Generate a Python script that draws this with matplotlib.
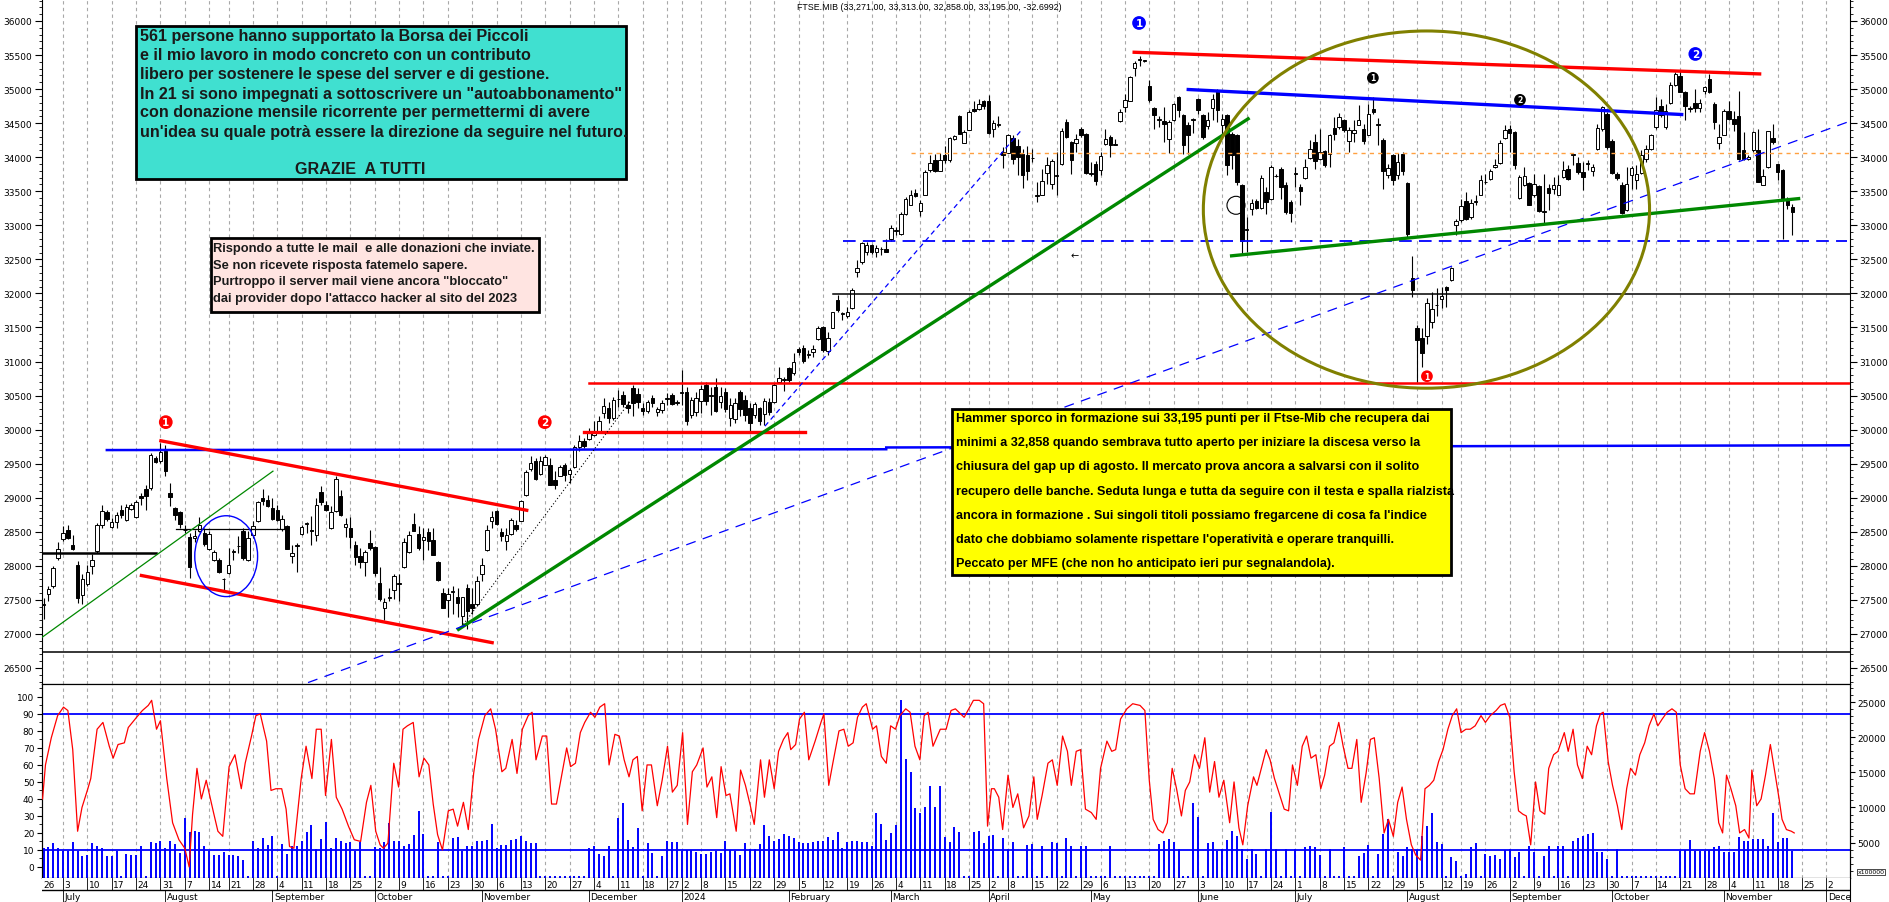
import numpy as np
import pandas as pd
import matplotlib
matplotlib.use('Agg')
import matplotlib.pyplot as plt
from matplotlib.patches import Rectangle, Ellipse

W, H = 1890, 903
SANS = ['Liberation Sans', 'DejaVu Sans']

# ---------------- data ----------------
holidays = ['2023-08-15', '2023-12-25', '2023-12-26', '2024-01-01',
            '2024-03-29', '2024-04-01', '2024-05-01', '2024-08-15']

opens = [27420, 27580, 27702, 28117, 28400, 28532, 28312, 28009, 27570, 27736,
         27995, 28214, 28605, 28786, 28571, 28644, 28815, 28669, 28840, 28718,
         29020, 29127, 29142, 29577, 29533, 29680, 29064, 28850, 28791, 28530,
         28425, 28410, 28507, 28483, 28254, 28093, 28083, 27800, 27897, 28205,
         28286, 28507, 28083, 28459, 28654, 28996, 28967, 28850, 28815, 28542,
         28586, 28141, 28288, 28468, 28610, 28532, 28449, 29084, 28888, 28557,
         28800, 29030, 28567, 28557, 28313, 28142, 28054, 28337, 28274, 27751,
         27375, 27535, 27638, 27736, 27980, 28205, 28620, 28469, 28386, 28493,
         28381, 28059, 27604, 27497, 27615, 27541, 27262, 27677, 27443, 27443,
         27873, 28239, 28654, 28811, 28498, 28371, 28474, 28606, 28664, 29035,
         29421, 29533, 29348, 29485, 29475, 29265, 29314, 29475, 29348, 29445,
         29738, 29836, 29866, 29924, 29973, 30242, 30315, 30168, 30445, 30510,
         30364, 30618, 30520, 30315, 30276, 30471, 30252, 30291, 30447, 30510,
         30398, 30545, 30559, 30208, 30252, 30422, 30657, 30491, 30632, 30413,
         30550, 30169, 30159, 30550, 30437, 30315, 30208, 30315, 30227, 30413,
         30403, 30706, 30725, 30911, 30828, 31184, 31194, 31101, 31145, 31331,
         31507, 31155, 31497, 31902, 31702, 31673, 31780, 32317, 32454, 32601,
         32718, 32611, 32645, 32659, 32796, 32923, 32879, 33172, 33304, 33475,
         33206, 33441, 33807, 33963, 33797, 34027, 33953, 34271, 34603, 34212,
         34393, 34710, 34710, 34832, 34832, 34408, 34471, 34076, 34066, 34281,
         34163, 34051, 34027, 33982, 33426, 33450, 33773, 33612, 33729, 33895,
         34515, 34222, 34212, 34408, 34344, 33753, 33904, 33807, 34198, 34295,
         34178, 34525, 34735, 34823, 35306, 35423, 35413, 35042, 34725, 34549,
         34535, 34261, 34539, 34891, 34622, 34466, 34549, 34857, 34622, 34456,
         34720, 34979, 34466, 34622, 34344, 34330, 33597, 32933, 33245, 33353,
         33255, 33489, 33392, 33719, 33831, 33587, 33343, 33753, 33563, 33695,
         33988, 34222, 33978, 34085, 34051, 34427, 34442, 34540, 34232, 34359,
         34476, 34408, 34330, 34710, 34471, 34256, 33734, 34036, 33734, 34051,
         33626, 32229, 31487, 31341, 31380, 31585, 31824, 31917, 32097, 32195,
         33001, 33074, 33357, 33123, 33338, 33450, 33631, 33675, 33856, 33919,
         34281, 34417, 34368, 33401, 33587, 33621, 33440, 33572, 33201, 33548,
         33538, 33450, 33709, 33821, 34031, 33919, 33782, 33899, 33792, 34114,
         34417, 34637, 34231, 33757, 33596, 33220, 33733, 33660, 33772, 33968,
         34114, 34441, 34749, 34441, 34798, 35061, 35198, 34964, 34705, 34798,
         34720, 34979, 35149, 34783, 34207, 34329, 34685, 34563, 34612, 34099,
         33977, 34099, 34099, 33596, 33855, 34280, 33904, 33806, 33391, 33271]

highs = [27531, 27702, 27995, 28351, 28581, 28595, 28459, 28068, 27873, 28019,
         28175, 28630, 28898, 28825, 28703, 28791, 28898, 28908, 28923, 28972,
         29069, 29191, 29655, 29606, 29802, 29777, 29216, 28859, 28800, 28605,
         28483, 28530, 28713, 28557, 28508, 28239, 28117, 27824, 28263, 28254,
         28434, 28557, 28508, 28654, 28957, 29133, 29045, 28996, 28888, 28752,
         28595, 28312, 28337, 28605, 28644, 28727, 28996, 29167, 28957, 28874,
         29313, 29118, 28703, 28713, 28361, 28264, 28239, 28532, 28288, 27980,
         27531, 27677, 27873, 27873, 28410, 28508, 28776, 28581, 28557, 28557,
         28557, 28068, 27677, 27677, 27702, 27677, 27541, 27726, 27677, 27848,
         28117, 28596, 28801, 28825, 28557, 28557, 28703, 28679, 28972, 29411,
         29607, 29582, 29607, 29621, 29582, 29387, 29485, 29509, 29436, 29768,
         29924, 29875, 30022, 30120, 30193, 30471, 30413, 30486, 30584, 30569,
         30420, 30657, 30608, 30388, 30437, 30510, 30339, 30437, 30535, 30535,
         30437, 30877, 30632, 30486, 30559, 30657, 30696, 30632, 30754, 30632,
         30608, 30461, 30461, 30584, 30510, 30388, 30413, 30339, 30461, 30461,
         30681, 30926, 30779, 30926, 31121, 31218, 31243, 31170, 31243, 31526,
         31526, 31438, 31731, 31975, 31731, 31804, 32073, 32488, 32757, 32757,
         32732, 32708, 32684, 32806, 33001, 32977, 33196, 33416, 33514, 33538,
         33367, 33807, 34027, 34051, 34066, 34163, 34295, 34329, 34622, 34393,
         34686, 34832, 34857, 34842, 34916, 34539, 34603, 34149, 34344, 34320,
         34271, 34124, 34163, 34124, 33636, 33831, 34002, 33978, 34076, 34427,
         34564, 34232, 34344, 34442, 34354, 33929, 33939, 34076, 34417, 34329,
         34271, 34701, 34930, 35199, 35419, 35492, 35433, 35140, 34735, 34603,
         34735, 34539, 34798, 34906, 34637, 34515, 34574, 34867, 34637, 34662,
         34930, 35003, 34637, 34637, 34369, 34344, 33612, 33123, 33392, 33392,
         33734, 33563, 33880, 33758, 33856, 33636, 33367, 33856, 33612, 33978,
         34246, 34344, 34417, 34100, 34344, 34588, 34652, 34564, 34442, 34540,
         34769, 34491, 34784, 34881, 34574, 34281, 33905, 34051, 34061, 34076,
         33636, 32552, 31536, 31487, 31926, 32024, 32073, 32097, 32112, 32391,
         33099, 33392, 33489, 33392, 33440, 33734, 33758, 33831, 33978, 34246,
         34466, 34466, 34392, 33733, 33855, 33636, 33757, 33587, 33757, 33611,
         33709, 33733, 33938, 33880, 34065, 34002, 33928, 33953, 33904, 34490,
         34759, 34661, 34270, 33782, 33635, 33855, 33870, 33880, 34099, 34173,
         34344, 34881, 34856, 34783, 35101, 35257, 35271, 34979, 34759, 35003,
         34856, 35052, 35223, 34808, 34490, 34710, 34832, 34685, 34979, 34368,
         34036, 34392, 34417, 33831, 34392, 34490, 33904, 33831, 33416, 33313]

lows = [27213, 27482, 27677, 28092, 28361, 28400, 28239, 27457, 27433, 27702,
        27873, 28190, 28556, 28654, 28556, 28556, 28703, 28664, 28825, 28703,
        28888, 28825, 29118, 29509, 29509, 29313, 28874, 28679, 28556, 28483,
        27824, 28350, 28498, 28288, 28239, 28068, 27897, 27628, 27873, 28092,
        28190, 28092, 28068, 28410, 28644, 28888, 28859, 28679, 28664, 28508,
        28254, 28044, 27912, 28459, 28483, 28312, 28361, 28888, 28800, 28547,
        28791, 28728, 28420, 28264, 28019, 27971, 27848, 28239, 27848, 27482,
        27199, 27482, 27507, 27482, 27971, 28190, 28508, 28239, 28093, 28239,
        28156, 27775, 27375, 27248, 27287, 27248, 27116, 27067, 27287, 27409,
        27775, 28225, 28557, 28606, 28361, 28239, 28459, 28508, 28654, 29021,
        29387, 29265, 29338, 29475, 29182, 29133, 29314, 29240, 29216, 29436,
        29680, 29729, 29851, 29900, 29949, 30168, 30095, 30144, 30339, 30339,
        30250, 30193, 30315, 30217, 30242, 30339, 30193, 30242, 30364, 30364,
        30364, 30364, 30071, 30168, 30193, 30242, 30364, 30217, 30266, 30315,
        30256, 30046, 30095, 30193, 30120, 29973, 30168, 30071, 30071, 30217,
        30388, 30681, 30569, 30706, 30803, 31096, 30974, 31047, 31072, 31316,
        31145, 31096, 31487, 31731, 31609, 31643, 31770, 32234, 32439, 32562,
        32586, 32537, 32571, 32601, 32771, 32855, 32855, 33148, 33294, 33416,
        33138, 33441, 33782, 33782, 33792, 33919, 33929, 34246, 34344, 34207,
        34393, 34662, 34686, 34710, 34344, 34295, 34442, 33841, 34066, 33904,
        33734, 33548, 33660, 33929, 33343, 33441, 33612, 33538, 33441, 33880,
        34281, 33758, 34076, 34295, 33758, 33724, 33587, 33734, 34173, 34002,
        34173, 34515, 34662, 34818, 35199, 35345, 35404, 34808, 34408, 34442,
        34222, 34066, 34525, 34588, 34051, 34051, 34359, 34637, 34271, 34417,
        34539, 34515, 34344, 33743, 33831, 33597, 32562, 32610, 33148, 33245,
        33245, 33172, 33367, 33709, 33392, 33172, 33050, 33563, 33294, 33685,
        33978, 33831, 33953, 33856, 33856, 34246, 34417, 34369, 34076, 34222,
        34466, 34198, 34320, 34637, 34173, 33538, 33695, 33597, 33675, 33734,
        32830, 31951, 30706, 30925, 31253, 31487, 31673, 31790, 31804, 32181,
        32864, 33050, 33074, 33099, 33294, 33440, 33612, 33660, 33841, 33905,
        34271, 34075, 33831, 33391, 33577, 33294, 33416, 33196, 33025, 33220,
        33465, 33440, 33694, 33660, 33880, 33757, 33513, 33806, 33724, 34099,
        34392, 34124, 33757, 33660, 33162, 33206, 33538, 33538, 33757, 33928,
        34099, 34417, 34588, 34417, 34783, 35042, 34954, 34539, 34661, 34661,
        34661, 34930, 34944, 34417, 34124, 34319, 34539, 34392, 33953, 33953,
        33953, 34075, 33635, 33586, 33841, 34197, 33660, 32805, 33245, 32858]

closes = [27440, 27667, 27970, 28254, 28483, 28410, 28254, 27531, 27814, 27912,
          28093, 28595, 28800, 28693, 28644, 28747, 28742, 28864, 28888, 28933,
          28996, 29020, 29621, 29528, 29665, 29387, 29015, 28742, 28615, 28520,
          27985, 28440, 28595, 28322, 28464, 28205, 27912, 27810, 28019, 28210,
          28290, 28117, 28410, 28581, 28932, 28947, 28874, 28693, 28676, 28683,
          28254, 28190, 28290, 28566, 28620, 28508, 28898, 28932, 28815, 28786,
          29274, 28752, 28615, 28420, 28132, 28059, 28205, 28264, 27897, 27507,
          27467, 27545, 27848, 27746, 28352, 28449, 28518, 28264, 28420, 28362,
          28166, 27785, 27375, 27590, 27625, 27458, 27541, 27336, 27375, 27775,
          28019, 28523, 28713, 28615, 28435, 28459, 28669, 28547, 28957, 29372,
          29504, 29279, 29533, 29592, 29191, 29191, 29455, 29338, 29401, 29738,
          29836, 29753, 29948, 29973, 30129, 30354, 30168, 30437, 30455, 30374,
          30320, 30388, 30413, 30276, 30403, 30388, 30301, 30388, 30457, 30374,
          30408, 30555, 30130, 30437, 30471, 30598, 30422, 30501, 30276, 30501,
          30305, 30364, 30388, 30305, 30217, 30095, 30374, 30120, 30422, 30266,
          30657, 30765, 30735, 30730, 30989, 31145, 31008, 31111, 31184, 31497,
          31170, 31350, 31722, 31756, 31712, 31732, 32049, 32376, 32733, 32718,
          32601, 32669, 32655, 32610, 32962, 32933, 33172, 33392, 33440, 33431,
          33333, 33782, 33919, 33797, 33953, 33953, 34281, 34310, 34344, 34369,
          34662, 34681, 34779, 34759, 34354, 34505, 34481, 34027, 34330, 33968,
          34002, 33734, 33792, 33992, 33436, 33646, 33890, 33939, 33739, 34383,
          34295, 33953, 34261, 34320, 33768, 33763, 33646, 34017, 34271, 34173,
          34188, 34671, 34842, 35174, 35384, 35433, 35423, 34847, 34613, 34559,
          34491, 34515, 34779, 34686, 34173, 34320, 34559, 34686, 34295, 34539,
          34857, 34686, 34566, 33890, 34027, 33636, 32767, 32943, 33333, 33255,
          33695, 33343, 33856, 33729, 33563, 33196, 33187, 33763, 33499, 33856,
          34124, 33939, 34076, 33880, 34330, 34344, 34588, 34393, 34393, 34403,
          34540, 34232, 34637, 34662, 34481, 33792, 33841, 33660, 33929, 33792,
          32879, 32049, 31316, 31121, 31853, 31770, 31834, 31966, 32049, 32366,
          33064, 33284, 33099, 33333, 33348, 33660, 33641, 33792, 33890, 34207,
          34403, 34358, 33880, 33709, 33724, 33303, 33611, 33211, 33211, 33479,
          33587, 33596, 33806, 33675, 34041, 33782, 33709, 33909, 33855, 34427,
          34734, 34148, 33772, 33694, 33186, 33611, 33841, 33758, 34026, 34114,
          34329, 34700, 34622, 34685, 35061, 35223, 34964, 34759, 34715, 34720,
          34798, 35027, 34954, 34524, 34295, 34685, 34563, 34490, 33968, 33977,
          34002, 34368, 33635, 33723, 34378, 34221, 33782, 33391, 33293, 33195]

# oscillator (left scale 0-100): trading-day position and value, as read
osc_day = [0.8, 1.4, 2.6, 3.9, 5.1, 6.0, 7.0, 8.0, 8.9, 10.1,
           10.7, 12.0, 13.2, 14.5, 15.3, 16.3, 17.6, 18.4, 20.1, 21.3,
           22.5, 23.2, 24.2, 25.0, 26.3, 27.5, 28.8, 30.0, 30.9, 31.6,
           32.5, 33.4, 34.4, 35.9, 36.8, 37.8, 39.1, 40.3, 41.6, 42.4,
           43.7, 44.6, 45.5, 46.8, 47.7, 48.7, 49.9, 50.8, 51.5, 52.4,
           53.9, 54.9, 56.1, 57.0, 58.0, 58.9, 60.1, 61.1, 62.3, 63.6,
           64.8, 66.1, 67.3, 68.2, 69.2, 70.1, 70.8, 71.7, 72.9, 73.9,
           74.8, 75.7, 76.9, 78.1, 79.1, 80.1, 81.0, 81.9, 82.9, 84.1,
           85.1, 86.0, 87.2, 88.2, 89.3, 90.3, 91.6, 92.8, 93.8, 95.1,
           95.9, 97.2, 98.2, 99.3, 100.5, 101.3, 102.1, 103.4, 104.3, 105.3,
           106.3, 107.5, 108.4, 109.2, 110.2, 111.2, 112.1, 113.3, 114.2, 115.2,
           116.2, 117.1, 118.3, 119.2, 120.2, 121.2, 122.0, 122.9, 123.9, 124.9,
           125.8, 127.0, 128.0, 129.1, 130.1, 131.1, 132.2, 133.2, 134.2, 135.1,
           136.4, 137.2, 138.2, 139.2, 140.1, 141.1, 141.9, 143.2, 144.1, 145.1,
           146.1, 146.9, 148.2, 149.0, 150.0, 151.0, 151.9, 152.9, 153.8, 154.4,
           155.4, 156.2, 157.2, 158.1, 159.4, 160.6, 161.2, 162.2, 163.1, 164.3,
           165.3, 166.2, 167.2, 168.1, 169.1, 169.9, 171.2, 172.0, 173.0, 174.0,
           174.9, 175.9, 176.8, 178.0, 178.9, 179.9, 180.9, 181.8, 182.6, 183.6,
           185.1, 186.3, 187.3, 188.2, 190.0, 191.9, 193.1, 194.0, 194.8, 195.6,
           196.2, 197.1, 197.9, 199.0, 200.0, 201.0, 202.2, 203.3, 204.3, 205.0,
           206.0, 207.2, 208.1, 209.1, 210.2, 211.2, 212.0, 213.0, 213.9, 214.9,
           216.1, 217.1, 218.0, 219.3, 220.3, 221.1, 222.1, 223.4, 224.6, 226.1,
           227.1, 228.0, 228.8, 229.8, 230.8, 231.7, 232.7, 233.6, 234.6, 235.4,
           236.3, 237.3, 238.3, 239.4, 240.4, 241.4, 242.3, 243.3, 244.5, 245.4,
           246.4, 247.2, 248.2, 249.4, 250.1, 251.0, 252.0, 252.8, 253.7, 254.7,
           255.7, 256.6, 257.4, 258.4, 259.4, 260.3, 261.2, 262.2, 263.2, 264.0,
           265.0, 265.9, 266.9, 267.8, 268.8, 269.6, 270.6, 271.5, 272.5, 273.4,
           274.2, 275.2, 276.2, 277.1, 278.1, 279.0, 279.9, 280.8, 281.8, 282.7,
           283.7, 284.6, 285.5, 286.4, 287.4, 288.3, 289.3, 290.2, 291.1, 292.0,
           293.0, 293.9, 294.9, 296.1, 297.0, 298.0, 299.2, 300.1, 301.0, 302.0,
           302.9, 303.8, 304.7, 305.4, 306.3, 307.3, 308.2, 309.2, 310.0, 311.0,
           311.9, 313.2, 314.0, 315.0, 315.9, 316.9, 317.9, 318.8, 319.8, 320.6,
           321.2, 322.2, 323.1, 324.1, 325.0, 326.0, 326.8, 327.8, 328.7, 329.7,
           330.6, 331.6, 332.4, 333.3, 334.3, 335.3, 336.2, 337.0, 338.0, 339.0,
           339.9, 341.1, 342.0, 343.0, 344.0, 344.9, 345.7, 346.5, 347.4, 348.4,
           349.2, 350.2, 351.1, 351.7, 352.7, 353.6, 354.5, 355.5, 356.4, 357.3,
           357.9, 358.8, 359.8, 360.4]
osc_val = [40, 60, 76, 89, 94, 92, 69, 21, 35, 46, 52, 81, 85, 71, 64, 72, 73, 82, 88, 92,
           95, 98, 81, 86, 52, 26, 16, 11, 0, 31, 58, 40, 51, 32, 21, 18, 59, 66, 46, 61,
           77, 89, 90, 74, 45, 46, 46, 34, 12, 11, 52, 71, 52, 81, 81, 42, 75, 41, 34, 24,
           16, 15, 38, 48, 21, 13, 11, 14, 61, 47, 81, 83, 85, 53, 64, 60, 37, 19, 10, 33,
           34, 24, 38, 22, 55, 75, 89, 93, 81, 56, 58, 75, 55, 81, 89, 91, 63, 77, 77, 37,
           37, 56, 70, 59, 61, 79, 85, 91, 88, 94, 96, 60, 78, 77, 63, 53, 63, 65, 33, 60,
           60, 36, 51, 71, 44, 48, 79, 25, 56, 60, 70, 47, 53, 29, 59, 42, 43, 21, 57, 48,
           36, 25, 63, 41, 63, 46, 68, 75, 79, 69, 72, 87, 91, 63, 74, 85, 90, 48, 62, 80,
           81, 71, 73, 88, 94, 96, 81, 83, 65, 61, 83, 81, 89, 93, 91, 71, 63, 89, 91, 71,
           81, 81, 92, 93, 88, 98, 98, 96, 24, 46, 46, 41, 22, 54, 35, 43, 23, 30, 53, 28,
           42, 61, 63, 48, 77, 68, 48, 68, 69, 34, 32, 28, 58, 74, 68, 69, 87, 93, 96, 95,
           92, 51, 28, 22, 20, 26, 58, 46, 30, 45, 50, 66, 58, 76, 44, 62, 41, 51, 26, 50,
           23, 13, 36, 53, 48, 58, 69, 63, 52, 43, 34, 33, 60, 48, 71, 77, 64, 66, 46, 54,
           71, 73, 85, 71, 58, 58, 75, 38, 55, 75, 76, 52, 20, 28, 18, 38, 47, 28, 13, 7,
           4, 46, 48, 51, 62, 69, 81, 89, 93, 79, 81, 81, 83, 89, 85, 89, 92, 95, 96, 88,
           56, 33, 31, 30, 13, 50, 33, 31, 58, 66, 68, 79, 68, 81, 60, 52, 71, 66, 83, 90,
           91, 62, 48, 36, 22, 46, 58, 54, 66, 73, 83, 90, 83, 87, 91, 93, 91, 60, 46, 43,
           43, 68, 79, 68, 52, 26, 20, 54, 46, 36, 20, 22, 17, 57, 36, 40, 54, 72, 56, 40,
           28, 22, 21, 20]

# volume in units of 100000 (right scale), one per candle
volume = [4170, 4310, 4930, 4170, 3830, 3830, 5020, 3830, 3120, 3260,
          4880, 4550, 4170, 3020, 3120, 3740, 260, 3360, 3260, 3210,
          4550, 260, 5020, 4930, 5260, 4170, 5260, 4790, 3450, 8450,
          6450, 6690, 6450, 4550, 3830, 3210, 3260, 3690, 3210, 3210,
          3120, 2500, 260, 5170, 4170, 5640, 4690, 5980, 260, 4790,
          3360, 4550, 4450, 5170, 6450, 7500, 4070, 5500, 7980, 4170,
          5600, 5260, 4880, 5020, 3740, 5020, 260, 260, 4310, 4170,
          5020, 7790, 5170, 5210, 4550, 4790, 6070, 9550, 6210, 260,
          260, 5020, 260, 260, 5640, 5740, 3740, 4550, 4550, 5170,
          5260, 5360, 7640, 4170, 4690, 4640, 5400, 5500, 5880, 5170,
          4930, 4880, 260, 260, 260, 260, 260, 260, 260, 260,
          260, 260, 4170, 4550, 3360, 3120, 4550, 260, 8450, 10640,
          5360, 4310, 7070, 260, 4930, 3450, 260, 3120, 5170, 5120,
          5120, 3830, 3980, 3980, 3600, 3360, 3360, 3600, 3830, 3500,
          5170, 3980, 3830, 3210, 4930, 4070, 4070, 4790, 7550, 5980,
          5170, 5500, 6210, 5880, 5600, 5020, 4930, 4930, 5020, 5260,
          5260, 5740, 5400, 6450, 4170, 5120, 5260, 5210, 5120, 5120,
          4550, 9210, 7640, 5400, 6360, 7500, 25360, 16930, 15020, 9880,
          9210, 10020, 13120, 10020,
          13120, 5740, 5120, 7170, 6450, 260, 260, 6450, 6690, 4930,
          5980, 6070, 260, 5600, 4070, 5020, 260, 260, 4640, 4790,
          260, 4450, 260, 5120, 4930, 260, 5600, 4450, 260, 4450,
          4550, 260, 260, 260, 260, 4550, 260, 260, 260, 260,
          260, 260, 260, 260, 260, 4790, 5260, 5500, 5020, 4070,
          260, 260, 10640, 8600, 260, 4880, 5020, 3830, 4070, 5400,
          6690, 5980, 4070, 2640, 4070, 3360, 260, 4070, 9310, 4070,
          260, 4070, 260, 4070, 260, 4310, 4450, 4310, 3210, 260,
          4070, 260, 260, 4310, 260, 260, 3120, 3500, 4690, 260,
          3360, 6210, 8360, 260, 3600, 3120, 4310, 4070, 3980, 5980,
          7400, 9170, 5020, 4790, 260, 2880, 2400, 260, 500,
          4310, 4930, 260, 3360, 3120, 3210, 2640, 3980, 4070, 2880,
          3600, 260, 4550, 3600, 260, 3120, 4550, 260, 4450, 4550,
          260, 5260, 5600, 5980, 6210, 6360, 3600, 3600, 2640, 260,
          4070, 260, 260, 260, 260, 260, 260, 260, 260, 260, 260, 260, 260,
          3740, 3980, 5360,
          3830, 3830, 3740, 3930, 4310, 4550, 3600, 3600, 3690, 5740,
          5260, 5260, 5500, 5500, 5500, 4550, 9210, 5020, 5600, 5690,
          3740]

# trend lines: (day0, price0, day1, price1)
red_channel_top = (25.1, 29836, 100.2, 28816)
red_channel_low = (21.1, 27858, 93.1, 26872)
green_thin = (0.69, 26950, 48.1, 29390)
green_main = (86.2, 27067, 248.3, 34564)
blue_long_dash = (55.3, 26286, 371.5, 34520)
blue_steep_dash = (149.1, 30051, 202.0, 34418)
black_dotted = (87.2, 27140, 121.4, 30413)
red_top = (224.9, 35541, 353.3, 35223)
blue_neck = (236.0, 34994, 337.3, 34627)
green_neck = (244.9, 32552, 361.3, 33392)

# -------------- calendar --------------
days = pd.bdate_range('2023-06-26', '2024-12-06')
days = days[~days.isin(pd.to_datetime(holidays))]
n = len(closes)
x = np.arange(1, n + 1)
XL = (0.69, 371.85)

week_idx = [i for i in range(len(days))
            if i == 0 or days[i].isocalendar()[1] != days[i - 1].isocalendar()[1]]
month_idx = [i for i in range(1, len(days)) if days[i].month != days[i - 1].month]
month_names = ['2024' if days[i].month == 1 else days[i].strftime('%B') for i in month_idx]


def fx(px):
    return px / W


def fy(py):
    return 1 - py / H


fig = plt.figure(figsize=(W / 100, H / 100), dpi=100)
ax = fig.add_axes([fx(42), fy(685), fx(1850) - fx(42), fy(0) - fy(685)])
ax_vol = fig.add_axes([fx(42), fy(879), fx(1850) - fx(42), fy(685) - fy(879)])
ax_osc = ax_vol.twinx()
ax_dt = fig.add_axes([fx(42), 0, fx(1850) - fx(42), fy(879)])

for a in (ax, ax_vol, ax_osc, ax_dt):
    a.set_xlim(*XL)
    a.set_xticks([])

# weekly dashed grid
for w in week_idx:
    for a in (ax, ax_vol):
        a.axvline(w, color='#a8a8a8', lw=0.8, ls=(0, (3, 3)), zorder=0)

# -------------- candles --------------
o = np.array(opens, float)
c = np.array(closes, float)
hi = np.array(highs, float)
lo = np.array(lows, float)
up = c >= o
body_lo = np.minimum(o, c)
body_h = np.maximum(np.abs(c - o), 12)
ax.vlines(x, lo, hi, color='black', lw=0.8, zorder=3)
ax.bar(x[up], body_h[up], bottom=body_lo[up], width=0.72, facecolor='white',
       edgecolor='black', lw=0.7, zorder=4)
ax.bar(x[~up], body_h[~up], bottom=body_lo[~up], width=0.72, facecolor='black',
       edgecolor='black', lw=0.7, zorder=4)

ax.set_ylim(26265, 36323)


def seg(line, **kw):
    ax.plot([line[0], line[2]], [line[1], line[3]], **kw)


# horizontal levels
ax.plot([0.69, 24], [28190, 28190], color='black', lw=1.8, zorder=5)
ax.plot([28.3, 50.5], [28542, 28542], color='black', lw=0.9, zorder=5)
ax.plot([14, 174], [29700, 29712], color='#0000ff', lw=1.8, zorder=5)
ax.plot([174, XL[1]], [29738, 29770], color='#0000ff', lw=1.8, zorder=5)
ax.plot([113, XL[1]], [30681, 30681], color='red', lw=1.8, zorder=5)
ax.plot([112, 157.3], [29965, 29965], color='red', lw=2.4, zorder=5)
ax.plot([163.1, XL[1]], [31990, 31990], color='black', lw=1.1, zorder=5)
ax.plot([165.2, 371.2], [32772, 32772], color='#0000ff', lw=1.3, ls=(0, (7, 4)), zorder=5)
ax.plot([179.1, XL[1]], [34066, 34066], color='#ffa040', lw=1.0, ls=(0, (3, 3)), zorder=5)
ax.axhline(26736, color='black', lw=1.1, zorder=5)

# trend lines
seg(red_channel_top, color='red', lw=2.4, zorder=6)
seg(red_channel_low, color='red', lw=2.4, zorder=6)
seg(green_thin, color='#008800', lw=0.9, zorder=6)
seg(green_main, color='#008800', lw=2.4, zorder=6)
seg(blue_long_dash, color='#0000ff', lw=0.9, ls=(0, (8, 6)), zorder=6)
seg(blue_steep_dash, color='#0000ff', lw=0.9, ls=(0, (4, 3)), zorder=6)
seg(black_dotted, color='black', lw=0.8, ls=(0, (1, 2)), zorder=6)
seg(red_top, color='red', lw=2.4, zorder=6)
seg(blue_neck, color='#0000ff', lw=2.4, zorder=6)
seg(green_neck, color='#008800', lw=2.4, zorder=6)

ax.add_patch(Ellipse((38.5, 28142), 12.9, 1187, fill=False, ec='#0000ff', lw=1.0, zorder=6))
ax.add_patch(Ellipse((284.9, 33231), 91.6, 5245, fill=False, ec='#808000', lw=2.2, zorder=6))
ax.add_patch(Ellipse((245.8, 33294), 3.7, 264, fill=False, ec='black', lw=0.8, zorder=6))
ax.text(212.6, 32557, '\u2190', fontsize=7, ha='center', va='center', zorder=7)


def badge(xd, yp, label, color, size):
    ax.text(xd, yp, label, color='white', fontsize=size, fontweight='bold',
            ha='center', va='center', zorder=8,
            bbox=dict(boxstyle='circle,pad=0.18', fc=color, ec='none'))


badge(26.1, 30110, '1', '#ff0000', 7.5)
badge(103.9, 30110, '2', '#ff0000', 7.5)
badge(225.9, 35971, '1', '#0000ff', 7.5)
badge(340.1, 35516, '2', '#0000ff', 7.5)
badge(273.9, 35165, '1', 'black', 5.5)
badge(304.1, 34842, '2', 'black', 5.5)
badge(285.0, 30784, '1', '#ff0000', 5.5)

# price axis
ax.set_yticks(np.arange(26500, 36001, 500))
ax.set_yticks(np.arange(26300, 36301, 100), minor=True)
ax.tick_params(axis='y', which='both', left=True, right=True, labelleft=True,
               labelright=True, direction='out', labelsize=6.5, pad=2)
ax.tick_params(axis='y', which='major', length=5)
ax.tick_params(axis='y', which='minor', length=2.5)
ax.spines['top'].set_visible(False)

# -------------- lower panel --------------
ax_vol.vlines(x, 0, volume, color='#0000ff', lw=1.4, zorder=2)
ax_vol.set_ylim(-70, 27640)
ax_vol.yaxis.tick_right()
ax_vol.set_yticks(np.arange(5000, 25001, 5000))
ax_vol.set_yticks(np.arange(1000, 27001, 1000), minor=True)
ax_vol.tick_params(axis='y', which='both', direction='out', labelsize=6.5, pad=2)
ax_vol.tick_params(axis='y', which='minor', length=2.5)

ax_osc.plot(osc_day, osc_val, color='red', lw=0.9, zorder=3)
ax_osc.axhline(90, color='#0000ff', lw=1.3)
ax_osc.axhline(10, color='#0000ff', lw=1.3)
ax_osc.set_ylim(-6.5, 107.6)
ax_osc.yaxis.tick_left()
ax_osc.set_yticks(np.arange(0, 101, 10))
ax_osc.set_yticks(np.arange(0, 106, 5), minor=True)
ax_osc.tick_params(axis='y', which='both', direction='out', labelsize=6.5, pad=2)
ax_osc.tick_params(axis='y', which='minor', length=2.5)

# -------------- date rows --------------
ax_dt.set_ylim(24, 0)
ax_dt.set_yticks([])
for s in ('top', 'left', 'bottom'):
    ax_dt.spines[s].set_visible(False)
ax_dt.axhline(12, color='black', lw=1.0)
for w in week_idx:
    if w >= XL[0]:
        ax_dt.plot([w, w], [0, 12], color='black', lw=0.6)
    ax_dt.text(max(w, XL[0]) + 0.3, 6.3, str(days[w].day), fontsize=6.5,
               ha='left', va='center', clip_on=True)
for m, name in zip(month_idx, month_names):
    ax_dt.plot([m, m], [12, 24], color='black', lw=0.6)
    ax_dt.text(m + 0.3, 18.5, name, fontsize=6.5, ha='left', va='center', clip_on=True)

fig.text(fx(1871), fy(873), 'x100000', fontsize=4.5, ha='center', va='center',
         bbox=dict(boxstyle='square,pad=0.15', fc='white', ec='black', lw=0.5))

# -------------- header and notes --------------
fig.text(fx(929), fy(8), 'FTSE.MIB (33,271.00, 33,313.00, 32,858.00, 33,195.00, -32.6992)',
         fontsize=6.4, ha='center', va='center', family=SANS)


def note_box(x0, y0, x1, y1, color):
    fig.add_artist(Rectangle((fx(x0), fy(y1)), fx(x1) - fx(x0), fy(y0) - fy(y1),
                             transform=fig.transFigure, fc=color, ec='black', lw=2, zorder=10))


note_box(136, 27, 626, 180, '#40e0d0')
cyan_lines = ["561 persone hanno supportato la Borsa dei Piccoli",
              "e il mio lavoro in modo concreto con un contributo",
              "libero per sostenere le spese del server e di gestione.",
              'In 21 si sono impegnati a sottoscrivere un "autoabbonamento"',
              "con donazione mensile ricorrente per permettermi di avere",
              "un'idea su quale potrà essere la direzione da seguire nel futuro."]
for j, t in enumerate(cyan_lines):
    fig.text(fx(140), fy(37 + j * 19), t, fontsize=11.6, fontweight='bold', color='#1a1a1a',
             ha='left', va='center', family=SANS, zorder=11)
fig.text(fx(360), fy(169), 'GRAZIE  A TUTTI', fontsize=11.6, fontweight='bold', color='#1a1a1a',
         ha='center', va='center', family=SANS, zorder=11)

note_box(211, 239, 539, 313, '#ffe4e1')
pink_lines = ["Rispondo a tutte le mail  e alle donazioni che inviate.",
              "Se non ricevete risposta fatemelo sapere.",
              'Purtroppo il server mail viene ancora "bloccato"',
              "dai provider dopo l'attacco hacker al sito del 2023"]
for j, t in enumerate(pink_lines):
    fig.text(fx(213), fy(249 + j * 16.7), t, fontsize=9.3, fontweight='bold', color='#1a1a1a',
             ha='left', va='center', family=SANS, zorder=11)

note_box(952, 410, 1451, 576, '#ffff00')
yellow_lines = ["Hammer sporco in formazione sui 33,195 punti per il Ftse-Mib che recupera dai",
                "minimi a 32,858 quando sembrava tutto aperto per iniziare la discesa verso la",
                "chiusura del gap up di agosto. Il mercato prova ancora a salvarsi con il solito",
                "recupero delle banche. Seduta lunga e tutta da seguire con il testa e spalla rialzista",
                "ancora in formazione . Sui singoli titoli possiamo fregarcene di cosa fa l'indice",
                "dato che dobbiamo solamente rispettare l'operatività e operare tranquilli.",
                "Peccato per MFE (che non ho anticipato ieri pur segnalandola)."]
for j, t in enumerate(yellow_lines):
    fig.text(fx(956), fy(419 + j * 24.2), t, fontsize=9.1, fontweight='bold', color='black',
             ha='left', va='center', family=SANS, zorder=11)

fig.savefig('out.png', dpi=100)
